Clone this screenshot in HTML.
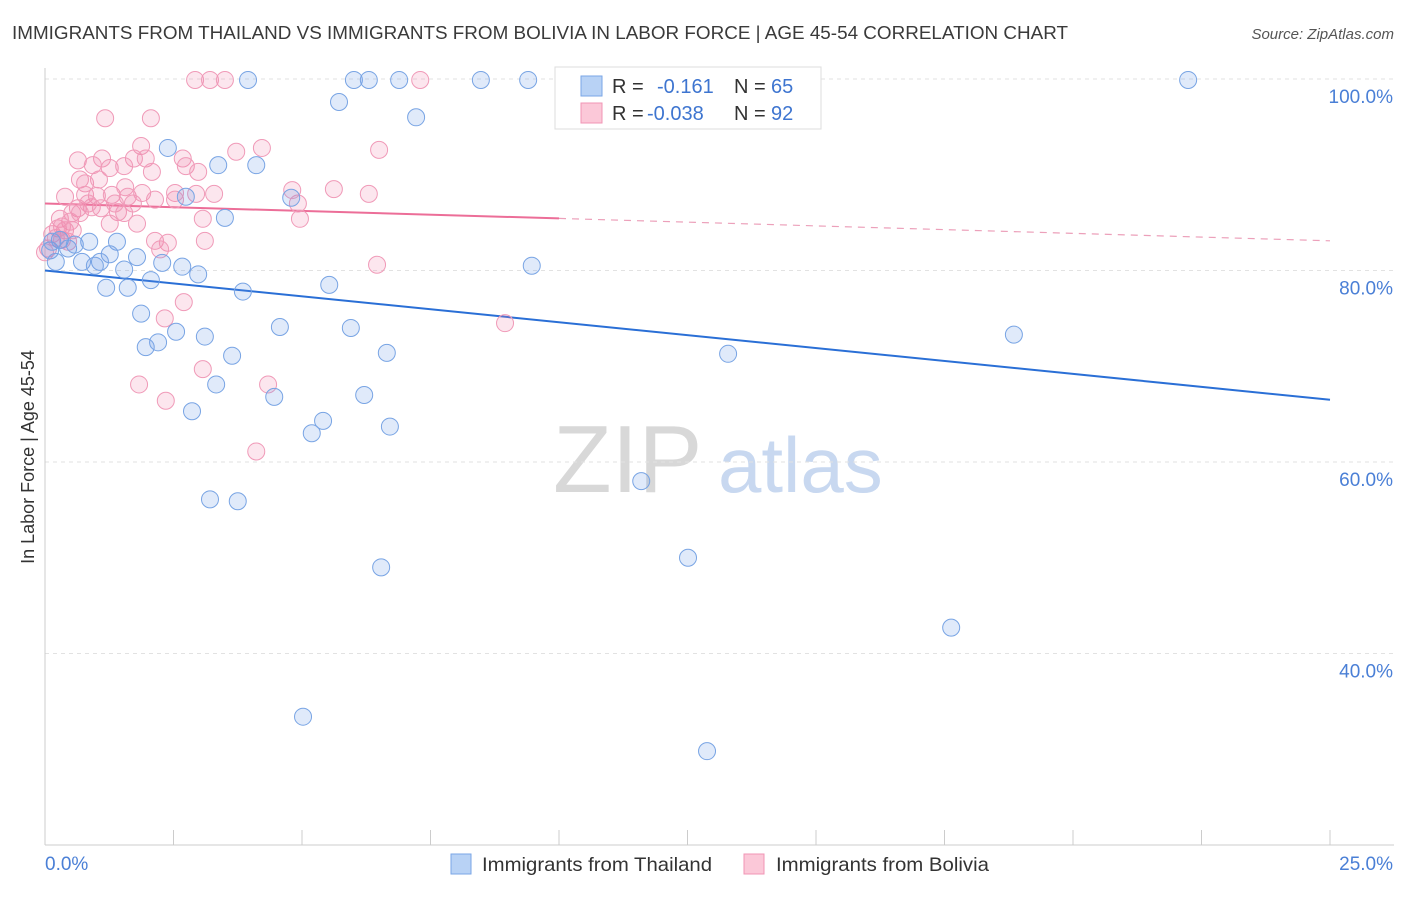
<!DOCTYPE html>
<html><head><meta charset="utf-8">
<style>
body{margin:0;background:#fff;font-family:"Liberation Sans",sans-serif;}
svg text{font-family:"Liberation Sans",sans-serif;}
</style></head>
<body>
<svg id="chart" width="1406" height="892" xmlns="http://www.w3.org/2000/svg">
<text x="12" y="39" font-size="18" fill="#3a3a3a" textLength="1056" lengthAdjust="spacingAndGlyphs">IMMIGRANTS FROM THAILAND VS IMMIGRANTS FROM BOLIVIA IN LABOR FORCE | AGE 45-54 CORRELATION CHART</text>
<text x="1394" y="39" font-size="15" font-style="italic" fill="#555" text-anchor="end">Source: ZipAtlas.com</text>
<text transform="translate(34,457) rotate(-90)" font-size="18" fill="#333" text-anchor="middle">In Labor Force | Age 45-54</text>
<g>
<text x="553" y="492" font-size="96" font-family="Liberation Serif" fill="#d8d8d8">ZIP</text>
<text x="718" y="492" font-size="78" fill="#c8d8f0">atlas</text>
</g>
<g id="grid"></g><g id="axes"></g><g id="trend"></g><g id="pts"></g>
<g>
<rect x="555" y="67" width="266" height="62" fill="#fff" stroke="#ddd"/>
<rect x="581" y="76" width="21" height="20" fill="#b8d2f5" stroke="#7aa6e6"/>
<rect x="581" y="103" width="21" height="20" fill="#fbc8d8" stroke="#f095b5"/>
<text x="612" y="93" font-size="20" fill="#333">R =</text>
<text x="657" y="93" font-size="20" fill="#3e75d0">-0.161</text>
<text x="734" y="93" font-size="20" fill="#333">N =</text>
<text x="771" y="93" font-size="20" fill="#3e75d0">65</text>
<text x="612" y="120" font-size="20" fill="#333">R =</text>
<text x="647" y="120" font-size="20" fill="#3e75d0">-0.038</text>
<text x="734" y="120" font-size="20" fill="#333">N =</text>
<text x="771" y="120" font-size="20" fill="#3e75d0">92</text>
</g>
<g>
<rect x="451" y="854" width="20" height="20" fill="#b8d2f5" stroke="#7aa6e6"/>
<text x="482" y="871" font-size="19.5" fill="#333" textLength="230" lengthAdjust="spacingAndGlyphs">Immigrants from Thailand</text>
<rect x="744" y="854" width="20" height="20" fill="#fbc8d8" stroke="#f095b5"/>
<text x="776" y="871" font-size="19.5" fill="#333" textLength="213" lengthAdjust="spacingAndGlyphs">Immigrants from Bolivia</text>
</g>
</svg>
<script>
const xTicks=[0,2.5,5,7.5,10,12.5,15,17.5,20,22.5,25];
const yTicks=[40,60,80,100];
const yTickLabels=["40.0%","60.0%","80.0%","100.0%"];
const thaiX=[3.95,6.01,6.30,6.89,8.48,9.40,11.34,22.24,5.72,7.22,2.39,3.37,4.11,4.79,2.74,3.50,0.29,0.86,1.40,0.45,0.10,1.26,1.79,0.21,0.72,1.07,0.97,1.54,2.28,2.67,2.98,2.06,1.19,1.61,3.85,5.53,9.47,1.87,4.57,5.95,2.55,3.11,2.20,1.96,3.64,6.65,13.29,18.85,3.33,4.46,6.21,2.86,5.41,5.19,6.71,11.60,3.21,3.75,12.51,6.54,17.63,5.02,12.88,0.14,0.58];
const thaiY=[99.9,99.9,99.9,99.9,99.9,99.9,99.9,99.9,97.6,96.0,92.8,91.0,91.0,87.6,87.7,85.5,83.2,83.0,83.0,82.3,82.1,81.7,81.4,80.9,80.9,80.9,80.5,80.1,80.8,80.4,79.6,79.0,78.2,78.2,77.8,78.5,80.5,75.5,74.1,74.0,73.6,73.1,72.5,72.0,71.1,71.4,71.3,73.3,68.1,66.8,67.0,65.3,64.3,63.0,63.7,58.0,56.1,55.9,50.0,49.0,42.7,33.4,29.8,83.0,82.7];
const boliX=[2.92,3.21,3.50,7.30,1.17,2.06,1.87,0.64,1.11,1.73,1.96,4.22,3.72,6.50,2.68,2.74,0.93,1.26,1.54,2.08,2.98,0.68,0.78,0.39,0.78,1.01,1.30,1.56,1.61,1.89,2.14,2.53,2.53,2.94,3.29,5.62,6.30,4.92,0.64,0.91,1.09,1.42,1.71,0.53,0.29,0.49,0.25,0.39,1.26,1.79,3.07,4.96,0.14,0.21,0.33,0.06,2.14,2.39,3.11,2.24,6.46,2.70,2.33,8.95,3.07,1.83,4.34,2.35,4.11,1.54,0.84,0.68,0.45,0.33,1.36,1.05,4.81,0.0,0.54];
const boliY=[99.9,99.9,99.9,99.9,95.9,95.9,93.0,91.5,91.7,91.7,91.7,92.8,92.4,92.6,91.7,90.9,91.0,90.7,90.9,90.3,90.3,89.5,89.1,87.7,87.9,87.8,87.9,88.7,87.7,88.1,87.4,88.1,87.4,88.0,88.0,88.5,88.0,87.0,86.5,86.6,86.5,86.1,87.0,86.0,85.4,85.1,84.4,84.2,84.9,84.9,85.4,85.4,83.8,83.4,83.2,82.3,83.1,82.9,83.1,82.2,80.6,76.7,75.0,74.5,69.7,68.1,68.1,66.4,61.1,86.0,87.0,86.0,83.0,84.6,87.0,89.5,88.4,81.9,84.2];
const thaiTrend=[80.0,66.5];
const boliTrend=[87.0,83.1];
const X=v=>45+v*51.4;
const Y=v=>79+(100-v)*9.575;
const NS="http://www.w3.org/2000/svg";
function mk(tag,attrs,parent){const e=document.createElementNS(NS,tag);for(const k in attrs)e.setAttribute(k,attrs[k]);parent.appendChild(e);return e;}
const grid=document.getElementById('grid'),axes=document.getElementById('axes'),trend=document.getElementById('trend'),pts=document.getElementById('pts');
yTicks.forEach((t,i)=>{
 const l=mk('line',{x1:45,x2:1394,y1:Y(t),y2:Y(t),stroke:'#e2e2e2','stroke-dasharray':'4,4'},grid);
 
 
 const tx=mk('text',{x:1393,y:Y(t)+24,'font-size':19,fill:'#4a7fd6','text-anchor':'end'},axes);
 tx.textContent=yTickLabels[i];
 
 
});
const xl=mk('line',{x1:45,x2:1394,y1:845,y2:845,stroke:'#ccc'},axes);


const yl=mk('line',{x1:45,x2:45,y1:68,y2:845,stroke:'#ccc'},axes);


xTicks.forEach(t=>{
 const l=mk('line',{x1:X(t),x2:X(t),y1:830,y2:845,stroke:'#ccc'},axes);
 
 
});
const x0=mk('text',{x:45,y:870,'font-size':19,fill:'#4a7fd6'},axes);x0.textContent='0.0%';


const x1=mk('text',{x:1393,y:870,'font-size':19,fill:'#4a7fd6','text-anchor':'end'},axes);x1.textContent='25.0%';


function dots(xs,ys,fill,stroke,name){xs.forEach((v,i)=>{
 const c=mk('circle',{cx:X(v),cy:Y(ys[i]),r:8.5,fill:fill,stroke:stroke,'stroke-width':1},pts);
 
 
});}
dots(boliX,boliY,'rgba(240,130,170,0.2)','#f09ab8','bolivia-point');
dots(thaiX,thaiY,'rgba(100,150,230,0.2)','#78a4e4','thailand-point');
const tb=mk('line',{x1:X(0),y1:Y(thaiTrend[0]),x2:X(25),y2:Y(thaiTrend[1]),stroke:'#2a6fd6','stroke-width':2},trend);


const yAt=x=>boliTrend[0]+(boliTrend[1]-boliTrend[0])*x/25;
const p1=mk('line',{x1:X(0),y1:Y(yAt(0)),x2:X(10),y2:Y(yAt(10)),stroke:'#ec6e98','stroke-width':2},trend);


const p2=mk('line',{x1:X(10),y1:Y(yAt(10)),x2:X(25),y2:Y(yAt(25)),stroke:'#eca0ba','stroke-width':1.2,'stroke-dasharray':'7,6'},trend);


</script>
</body></html>
